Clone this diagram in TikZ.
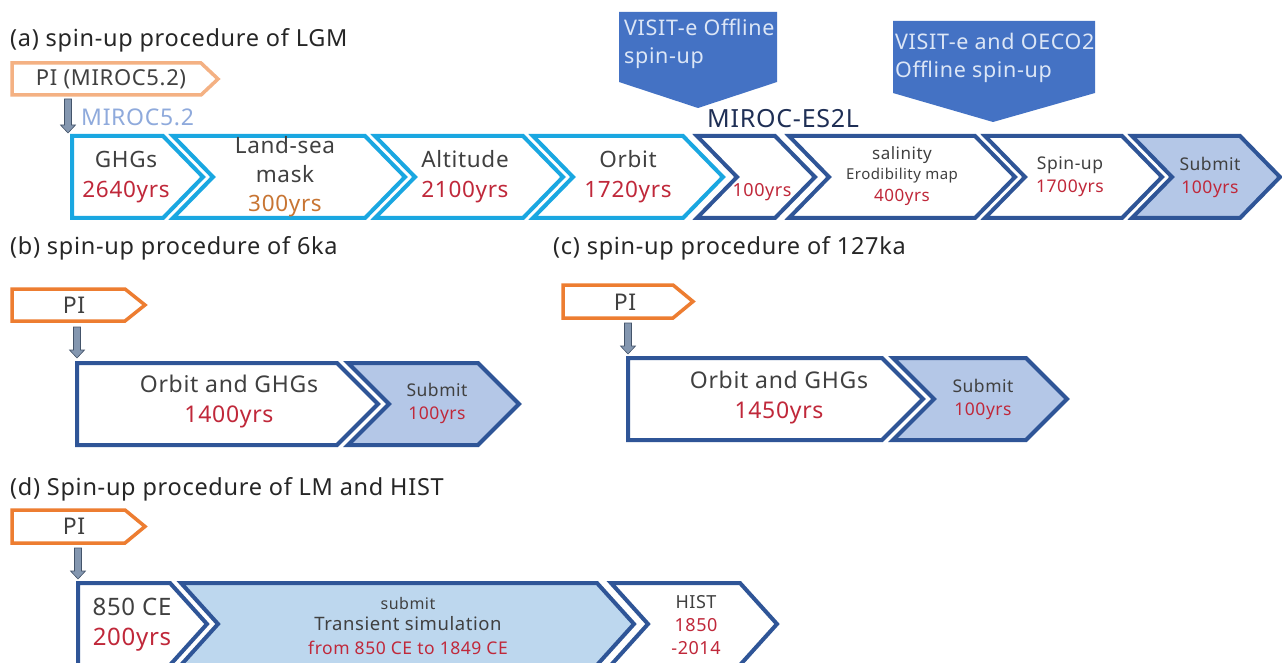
\documentclass[tikz,border=0pt]{standalone}
\usepackage{fontspec}
\setmainfont{Noto Sans}[LetterSpace=3]
\usetikzlibrary{calc}
\definecolor{lblue}{HTML}{1AA7E1}
\definecolor{dblue}{HTML}{2F5597}
\definecolor{subfill}{HTML}{B4C7E7}
\definecolor{transfill}{HTML}{BDD7EE}
\definecolor{orng}{HTML}{ED7D31}
\definecolor{lorng}{HTML}{F4B183}
\definecolor{txt}{HTML}{404040}
\definecolor{ttl}{HTML}{262626}
\definecolor{yrs}{HTML}{C0283A}
\definecolor{brn}{HTML}{C87533}
\definecolor{calfill}{HTML}{4472C4}
\definecolor{caltxt}{HTML}{DCE6F6}
\definecolor{arrfill}{HTML}{8497B0}
\definecolor{arrline}{HTML}{44546A}
\definecolor{mlabel}{HTML}{8FAADC}
\definecolor{esl}{HTML}{1F2F55}
\newcommand\fsz[2]{\fontsize{#1}{#2}\selectfont}
% chevron: style, left, right, top, bottom, left notch depth, right tip depth
\newcommand\chevron[7]{%
  \draw[#1] (#2,#4) -- (#3,#4) -- ({#3+#7},{(#4+#5)/2}) -- (#3,#5) -- (#2,#5)
    -- ({#2+#6},{(#4+#5)/2}) -- cycle;}
% thick grey block arrow between two named coordinates
\newcommand\blockarrow[2]{%
  \draw[downarr] ($(#1)+(-3.5,0)$) -- ($(#1)+(3.5,0)$) -- ($(#2)+(3.5,-8)$)
    -- ($(#2)+(7.5,-8)$) -- (#2) -- ($(#2)+(-7.5,-8)$) -- ($(#2)+(-3.5,-8)$) -- cycle;}
\begin{document}
\begin{tikzpicture}[x=1pt,y=-1pt,line join=miter,
  lchev/.style={draw=lblue,line width=4pt,fill=white},
  dchev/.style={draw=dblue,line width=4pt,fill=white},
  dchevf/.style={draw=dblue,line width=4pt,fill=subfill},
  tchev/.style={draw=dblue,line width=4pt,fill=transfill},
  pibox/.style={draw=orng,line width=3.5pt,fill=white},
  pilight/.style={draw=lorng,line width=3.5pt,fill=white},
  title/.style={anchor=west,text=ttl,inner sep=0pt,font=\fsz{23.5}{27}},
  lbl/.style={align=center,text=txt,inner sep=0pt},
  callout/.style={fill=calfill,draw=none},
  ctext/.style={anchor=west,text=caltxt,align=left,inner sep=0pt,font=\fsz{21.5}{28}},
  downarr/.style={fill=arrfill,draw=arrline,line width=0.6pt}]
\fill[white] (0,0) rectangle (1282,663);
\useasboundingbox (0,0) rectangle (1282,663);

% ---------------- (a) LGM ----------------
\node[title] (ta) at (10,40) {(a) spin-up procedure of LGM};
\chevron{pilight}{12}{201}{63}{95}{0}{17}
\node[lbl,font=\fsz{22}{27}] (pia) at (111,79) {PI (MIROC5.2)};
\coordinate (aa1) at (68,99);
\coordinate (aa2) at (68,133);
\blockarrow{aa1}{aa2}
\node[anchor=west,text=mlabel,inner sep=0pt,font=\fsz{23}{26}] (mir) at (81,117) {MIROC5.2};

% callouts
\fill[callout] (619,12) -- (777,12) -- (777,82) -- (698,108) -- (619,82) -- cycle;
\node[ctext] (cal1) at (624,44) {VISIT-e Offline\\spin-up};
\fill[callout] (893,21) -- (1095,21) -- (1095,93) -- (993,122) -- (893,93) -- cycle;
\node[ctext] (cal2) at (895,58) {VISIT-e and OECO2\\Offline spin-up};
\node[anchor=west,text=esl,inner sep=0pt,font=\fsz{25}{28}] (es) at (707,119) {MIROC-ES2L};

% stage chevrons
\chevron{lchev}{72}{163}{136}{218}{0}{40}
\chevron{lchev}{173}{365}{136}{218}{40}{40}
\chevron{lchev}{375}{523}{136}{218}{40}{40}
\chevron{lchev}{533}{683}{136}{218}{40}{40}
\chevron{dchev}{697}{775}{136}{218}{40}{40}
\chevron{dchev}{789}{975}{136}{218}{40}{40}
\chevron{dchev}{985}{1122}{136}{218}{40}{40}
\chevron{dchevf}{1132}{1240}{136}{218}{40}{40}

\node[lbl,font=\fsz{22.5}{30}] (ghg) at (126,177) {GHGs\\\textcolor{yrs}{2640yrs}};
\node[lbl,font=\fsz{22.5}{29}] (lsm) at (285,177) {Land-sea\\mask\\\textcolor{brn}{300yrs}};
\node[lbl,font=\fsz{22.5}{30}] (alt) at (465,177) {Altitude\\\textcolor{yrs}{2100yrs}};
\node[lbl,font=\fsz{22.5}{30}] (orb) at (628,177) {Orbit\\\textcolor{yrs}{1720yrs}};
\node[lbl,text=yrs,font=\fsz{18}{20}] (hund) at (762,192) {100yrs};
\node[lbl,font=\fsz{17}{20}] (sal1) at (902,155) {salinity};
\node[lbl,font=\fsz{15}{17}] (sal2) at (902,176) {Erodibility map};
\node[lbl,text=yrs,font=\fsz{17}{20}] (sal3) at (902,197) {400yrs};
\node[lbl,font=\fsz{17.5}{23}] (spn) at (1070,177) {Spin-up\\\textcolor{yrs}{1700yrs}};
\node[lbl,font=\fsz{17.5}{23}] (suba) at (1210,177) {Submit\\\textcolor{yrs}{100yrs}};

% ---------------- (b) 6ka ----------------
\node[title] (tb) at (10,248) {(b) spin-up procedure of 6ka};
\chevron{pibox}{12}{125}{289}{321}{0}{20}
\node[lbl,font=\fsz{23}{27}] (pib) at (74,305) {PI};
\coordinate (ba1) at (77,327);
\coordinate (ba2) at (77,358);
\blockarrow{ba1}{ba2}
\chevron{dchev}{77}{337}{363}{445}{0}{41}
\chevron{dchevf}{348}{478}{363}{445}{41}{41}
\node[lbl,font=\fsz{23}{30}] (orbb) at (229,402) {Orbit and GHGs\\\textcolor{yrs}{1400yrs}};
\node[lbl,font=\fsz{17.5}{23}] (subb) at (437,403) {Submit\\\textcolor{yrs}{100yrs}};

% ---------------- (c) 127ka ----------------
\node[title] (tc) at (553,248) {(c) spin-up procedure of 127ka};
\chevron{pibox}{563}{673}{285}{318}{0}{20}
\node[lbl,font=\fsz{23}{27}] (pic) at (625,302) {PI};
\coordinate (ca1) at (628,323);
\coordinate (ca2) at (628,354);
\blockarrow{ca1}{ca2}
\chevron{dchev}{628}{882}{358}{440}{0}{41}
\chevron{dchevf}{893}{1026}{358}{440}{41}{41}
\node[lbl,font=\fsz{23}{30}] (orbc) at (779,398) {Orbit and GHGs\\\textcolor{yrs}{1450yrs}};
\node[lbl,font=\fsz{17.5}{23}] (subc) at (983,399) {Submit\\\textcolor{yrs}{100yrs}};

% ---------------- (d) LM and HIST ----------------
\node[title] (td) at (10,489) {(d) Spin-up procedure of LM and HIST};
\chevron{pibox}{12}{125}{510}{543}{0}{20}
\node[lbl,font=\fsz{23}{27}] (pid) at (74,526) {PI};
\coordinate (da1) at (78,548);
\coordinate (da2) at (78,579);
\blockarrow{da1}{da2}
\chevron{dchev}{78}{170}{583}{665}{0}{37}
\chevron{tchev}{181}{597}{583}{665}{37}{37}
\chevron{dchev}{611}{740}{583}{665}{37}{37}
\node[lbl,font=\fsz{24}{30}] (ce) at (132,625) {850 CE\\\textcolor{yrs}{200yrs}};
\node[lbl,font=\fsz{16}{20}] (tr1) at (408,603) {submit};
\node[lbl,font=\fsz{18.5}{22}] (tr2) at (408,624) {Transient simulation};
\node[lbl,text=yrs,font=\fsz{17.5}{20}] (tr3) at (408,648) {from 850 CE to 1849 CE};
\node[lbl,font=\fsz{18}{23}] (hist) at (696,625) {HIST\\\textcolor{yrs}{1850}\\\textcolor{yrs}{-2014}};
\end{tikzpicture}
\end{document}
